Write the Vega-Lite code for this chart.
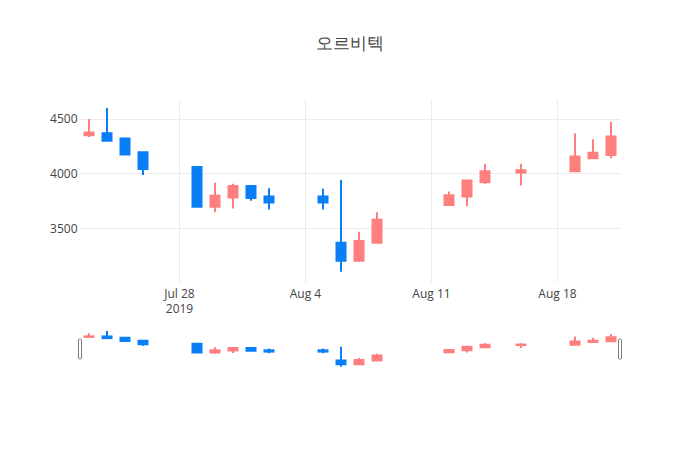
{
  "$schema": "https://vega.github.io/schema/vega-lite/v6.json",
  "background": "white",
  "padding": {"left": 49, "top": 35, "right": 10, "bottom": 10},
  "title": {"text": "오르비텍", "fontSize": 17, "font": "Open Sans", "fontWeight": "normal", "color": "#444", "anchor": "middle", "offset": 46, "dx": 14},
  "config": {
    "view": {"stroke": null},
    "font": "Open Sans",
    "axis": {"labelFont": "Open Sans", "labelFontSize": 12, "labelColor": "#444", "gridColor": "#ebebeb", "gridWidth": 1, "domain": false, "ticks": false, "title": null}
  },
  "data": {"values": [
    {"date": "2019-07-23", "open": 4350, "high": 4500, "low": 4335, "close": 4375},
    {"date": "2019-07-24", "open": 4370, "high": 4600, "low": 4300, "close": 4300},
    {"date": "2019-07-25", "open": 4320, "high": 4320, "low": 4175, "close": 4175},
    {"date": "2019-07-26", "open": 4195, "high": 4195, "low": 3985, "close": 4040},
    {"date": "2019-07-29", "open": 4060, "high": 4060, "low": 3695, "close": 3695},
    {"date": "2019-07-30", "open": 3695, "high": 3915, "low": 3645, "close": 3795},
    {"date": "2019-07-31", "open": 3780, "high": 3905, "low": 3680, "close": 3885},
    {"date": "2019-08-01", "open": 3885, "high": 3885, "low": 3750, "close": 3775},
    {"date": "2019-08-02", "open": 3790, "high": 3865, "low": 3670, "close": 3735},
    {"date": "2019-08-05", "open": 3790, "high": 3860, "low": 3670, "close": 3735},
    {"date": "2019-08-06", "open": 3365, "high": 3940, "low": 3100, "close": 3200},
    {"date": "2019-08-07", "open": 3200, "high": 3465, "low": 3200, "close": 3380},
    {"date": "2019-08-08", "open": 3365, "high": 3645, "low": 3365, "close": 3575},
    {"date": "2019-08-12", "open": 3710, "high": 3835, "low": 3710, "close": 3800},
    {"date": "2019-08-13", "open": 3790, "high": 3935, "low": 3700, "close": 3935},
    {"date": "2019-08-14", "open": 3920, "high": 4090, "low": 3905, "close": 4020},
    {"date": "2019-08-16", "open": 4010, "high": 4090, "low": 3890, "close": 4030},
    {"date": "2019-08-19", "open": 4020, "high": 4370, "low": 4020, "close": 4155},
    {"date": "2019-08-20", "open": 4140, "high": 4315, "low": 4140, "close": 4190},
    {"date": "2019-08-21", "open": 4170, "high": 4475, "low": 4140, "close": 4340}
  ]},
  "spacing": 15,
  "vconcat": [
    {
      "width": 540,
      "height": 183,
      "encoding": {
        "x": {"field": "date", "type": "temporal",
          "scale": {"type": "utc", "padding": 0, "domain": [{"year": 2019, "month": 7, "date": 22, "hours": 12, "utc": true}, {"year": 2019, "month": 8, "date": 21, "hours": 12, "utc": true}]},
          "axis": {"grid": true, "labelPadding": 6, "labelLineHeight": 15, "labelAngle": 0,
            "values": [{"year": 2019, "month": 7, "date": 28, "utc": true}, {"year": 2019, "month": 8, "date": 4, "utc": true}, {"year": 2019, "month": 8, "date": 11, "utc": true}, {"year": 2019, "month": 8, "date": 18, "utc": true}],
            "labelExpr": "utcdate(datum.value) == 28 ? [utcFormat(datum.value, '%b %-d'), '2019'] : utcFormat(datum.value, '%b %-d')"}},
        "stroke": {"condition": {"test": "datum.close >= datum.open", "value": "#ff7f7f"}, "value": "#087ff7"},
        "fill": {"condition": {"test": "datum.close >= datum.open", "value": "#ff7f7f"}, "value": "#087ff7"}
      },
      "layer": [
        {
          "mark": {"type": "rule", "strokeWidth": 2},
          "encoding": {
            "y": {"field": "low", "type": "quantitative", "scale": {"domain": [3005, 4683], "nice": false, "zero": false, "padding": 0},
              "axis": {"values": [3500, 4000, 4500], "format": "d", "grid": true, "labelPadding": 3}},
            "y2": {"field": "high"}
          }
        },
        {
          "mark": {"type": "bar", "size": 9, "strokeWidth": 2},
          "encoding": {
            "y": {"field": "open", "type": "quantitative"},
            "y2": {"field": "close"}
          }
        }
      ]
    },
    {
      "width": 540,
      "height": 40,
      "encoding": {
        "x": {"field": "date", "type": "temporal",
          "scale": {"type": "utc", "padding": 0, "domain": [{"year": 2019, "month": 7, "date": 22, "hours": 12, "utc": true}, {"year": 2019, "month": 8, "date": 21, "hours": 12, "utc": true}]},
          "axis": null},
        "stroke": {"condition": {"test": "datum.close >= datum.open", "value": "#ff7f7f"}, "value": "#087ff7"},
        "fill": {"condition": {"test": "datum.close >= datum.open", "value": "#ff7f7f"}, "value": "#087ff7"}
      },
      "layer": [
        {
          "mark": {"type": "rule", "strokeWidth": 2},
          "encoding": {
            "y": {"field": "low", "type": "quantitative", "scale": {"domain": [3005, 4683], "nice": false, "zero": false, "padding": 0}, "axis": null},
            "y2": {"field": "high"}
          }
        },
        {
          "mark": {"type": "bar", "size": 9, "strokeWidth": 2},
          "encoding": {
            "y": {"field": "open", "type": "quantitative"},
            "y2": {"field": "close"}
          }
        },
        {
          "data": {"values": [{"edge": "2019-07-22T12:00:00Z"}, {"edge": "2019-08-21T12:00:00Z"}]},
          "mark": {"type": "tick", "orient": "vertical", "thickness": 3, "size": 20, "fill": "white", "stroke": "#444", "strokeWidth": 1, "cornerRadius": 1},
          "encoding": {
            "x": {"field": "edge", "type": "temporal"},
            "stroke": {"value": "#444"},
            "fill": {"value": "white"}
          }
        }
      ]
    }
  ]
}
